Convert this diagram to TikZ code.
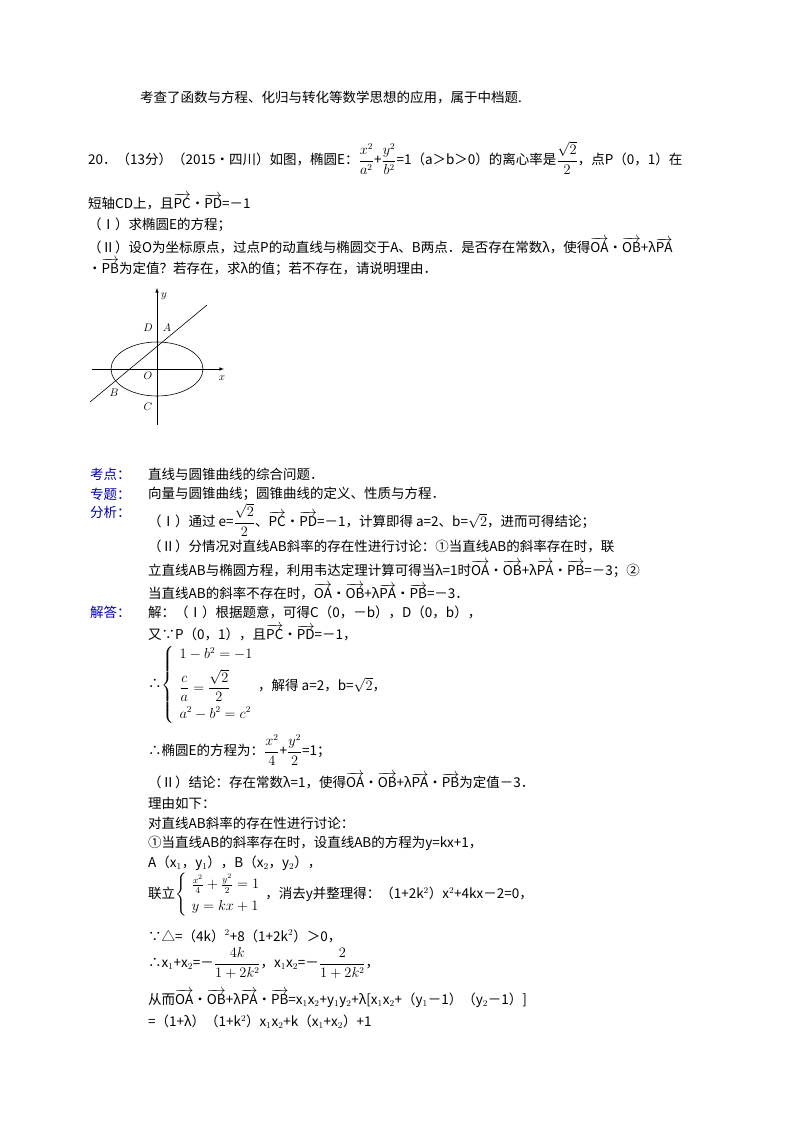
\documentclass[tikz,border=0pt]{standalone}
\usepackage{amsmath}
\usepackage{fontspec}
\setmainfont{Noto Sans CJK SC}
\newcommand{\va}[1]{\overrightarrow{\mathrm{#1}}}
\begin{document}
\begin{tikzpicture}[x=1pt,y=-1pt,
 t/.style={anchor=west,inner sep=0pt,font=\fontsize{13.5}{16}\selectfont},
 lab/.style={t,text=blue!70!black},
 ax/.style={-latex,line width=0.6pt},
 fl/.style={inner sep=1pt,font=\fontsize{11}{12}\selectfont}]
\useasboundingbox[fill=white] (0,0) rectangle (800,1133);
\node[t] (l0) at (140,97) {考查了函数与方程、化归与转化等数学思想的应用，属于中档题.};
\node[t] (q1) at (88,158) {20．（13分）（2015•四川）如图，椭圆E：$\dfrac{x^2}{a^2}$+$\dfrac{y^2}{b^2}$=1（a＞b＞0）的离心率是$\dfrac{\sqrt2}{2}$，点P（0，1）在};
\node[t] (q2) at (88,202) {短轴CD上，且$\va{PC}$•$\va{PD}$=－1};
\node[t] (q3) at (88,225) {（Ⅰ）求椭圆E的方程；};
\node[t] (q4) at (88,246) {（Ⅱ）设O为坐标原点，过点P的动直线与椭圆交于A、B两点．是否存在常数λ，使得$\va{OA}$•$\va{OB}$+λ$\va{PA}$};
\node[t] (q5) at (88,267) {•$\va{PB}$为定值？若存在，求λ的值；若不存在，请说明理由．};
% figure
\coordinate (O) at (157,369);
\draw[ax] (157,425) -- (157,288);
\draw[ax] (92,369) -- (224,369);
\draw[line width=0.6pt] (O) ellipse [x radius=46,y radius=27];
\draw[line width=0.6pt] (90,402) -- (207,305);
\node[fl] (ly) at (164,296) {$y$};
\node[fl] (lx) at (222,378) {$x$};
\node[fl] (lD) at (148,328) {$D$};
\node[fl] (lA) at (167,328) {$A$};
\node[fl] (lO) at (148,376) {$O$};
\node[fl] (lB) at (114,393) {$B$};
\node[fl] (lC) at (148,407) {$C$};
% analysis
\node[lab] (k1) at (90,474) {考点：};
\node[t] (k2) at (148,474) {直线与圆锥曲线的综合问题．};
\node[lab] (z1) at (90,494) {专题：};
\node[t] (z2) at (148,494) {向量与圆锥曲线；圆锥曲线的定义、性质与方程．};
\node[lab] (f1) at (90,512) {分析：};
\node[t] (f2) at (148,520) {（Ⅰ）通过 e=$\dfrac{\sqrt2}{2}$、$\va{PC}$•$\va{PD}$=－1，计算即得 a=2、b=$\sqrt2$，进而可得结论；};
\node[t] (f3) at (148,546) {（Ⅱ）分情况对直线AB斜率的存在性进行讨论：①当直线AB的斜率存在时，联};
\node[t] (f4) at (148,569) {立直线AB与椭圆方程，利用韦达定理计算可得当λ=1时$\va{OA}$•$\va{OB}$+λ$\va{PA}$•$\va{PB}$=－3；②};
\node[t] (f5) at (148,592) {当直线AB的斜率不存在时，$\va{OA}$•$\va{OB}$+λ$\va{PA}$•$\va{PB}$=－3．};
\node[lab] (j1) at (90,612) {解答：};
\node[t] (j2) at (148,612) {解：（Ⅰ）根据题意，可得C（0，－b），D（0，b），};
\node[t] (j3) at (148,633) {又∵P（0，1），且$\va{PC}$•$\va{PD}$=－1，};
\node[t] (j4) at (148,685) {∴$\left\{\begin{array}{l}1-b^2=-1\\[6pt] \dfrac{c}{a}=\dfrac{\sqrt2}{2}\\[10pt] a^2-b^2=c^2\end{array}\right.$};
\node[t] (j5) at (258,685) {，解得 a=2，b=$\sqrt2$，};
\node[t] (j6) at (148,750) {∴椭圆E的方程为：$\dfrac{x^2}{4}$+$\dfrac{y^2}{2}$=1；};
\node[t] (j7) at (148,781) {（Ⅱ）结论：存在常数λ=1，使得$\va{OA}$•$\va{OB}$+λ$\va{PA}$•$\va{PB}$为定值－3．};
\node[t] (j8) at (148,803) {理由如下：};
\node[t] (j9) at (148,823) {对直线AB斜率的存在性进行讨论：};
\node[t] (j10) at (148,843) {①当直线AB的斜率存在时，设直线AB的方程为y=kx+1，};
\node[t] (j11) at (148,863) {A（x$_1$，y$_1$），B（x$_2$，y$_2$），};
\node[t] (j12) at (148,895) {联立$\left\{\begin{array}{l}\frac{x^2}{4}+\frac{y^2}{2}=1\\[6pt] y=kx+1\end{array}\right.$，消去y并整理得：（1+2k$^2$）x$^2$+4kx－2=0，};
\node[t] (j13) at (148,936) {∵△=（4k）$^2$+8（1+2k$^2$）＞0，};
\node[t] (j14) at (148,963) {∴x$_1$+x$_2$=－$\dfrac{4k}{1+2k^2}$，x$_1$x$_2$=－$\dfrac{2}{1+2k^2}$，};
\node[t] (j15) at (148,998) {从而$\va{OA}$•$\va{OB}$+λ$\va{PA}$•$\va{PB}$=x$_1$x$_2$+y$_1$y$_2$+λ[x$_1$x$_2$+（y$_1$－1）（y$_2$－1）]};
\node[t] (j16) at (148,1022) {=（1+λ）（1+k$^2$）x$_1$x$_2$+k（x$_1$+x$_2$）+1};
\end{tikzpicture}
\end{document}
